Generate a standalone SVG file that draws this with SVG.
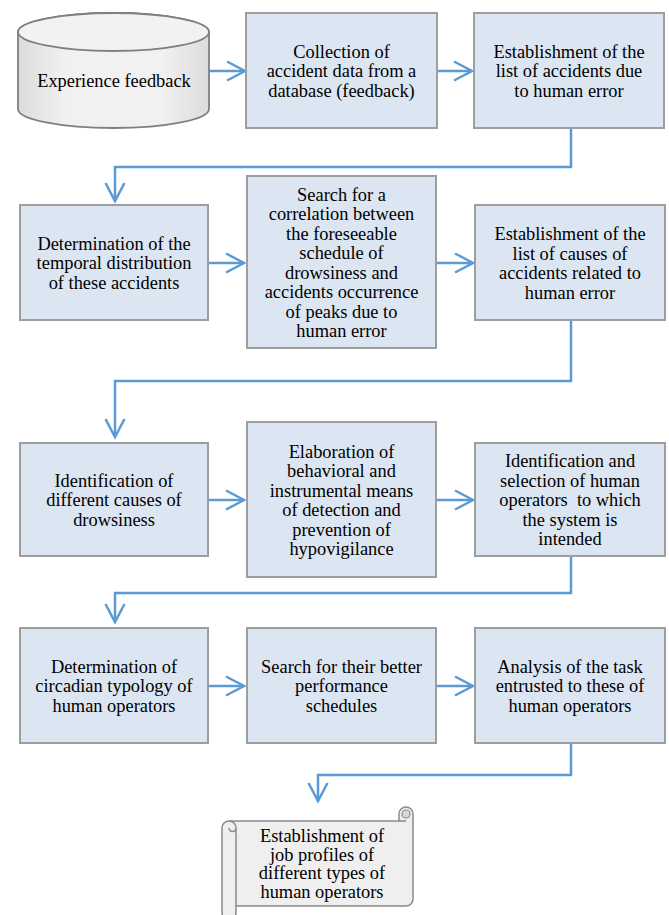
<svg xmlns="http://www.w3.org/2000/svg" width="669" height="915" viewBox="0 0 669 915" font-family="Liberation Serif, Times New Roman, DejaVu Serif, serif">
<style>
.box{fill:#DCE6F2;stroke:#9E9E9E;stroke-width:2}
.t{font-family:'Liberation Serif','Times New Roman','DejaVu Serif',serif;font-size:18.4px;fill:#000;text-anchor:middle}
.conn{fill:none;stroke:#5B9BD5;stroke-width:2.5;marker-end:url(#arr)}
.gray{fill:#EFEFEF;stroke:#8A8A8A;stroke-width:1.5}
</style>
<defs>
<marker id="arr" markerUnits="userSpaceOnUse" markerWidth="24" markerHeight="24" refX="18" refY="10" orient="auto" overflow="visible">
<path d="M0,0.5 L18,10 L0,19.5" fill="none" stroke="#5B9BD5" stroke-width="2.5"/>
</marker>
<linearGradient id="cyl" x1="0" y1="0" x2="1" y2="0">
<stop offset="0" stop-color="#DCDCDC"/>
<stop offset="0.25" stop-color="#F1F1F1"/>
<stop offset="0.75" stop-color="#F1F1F1"/>
<stop offset="1" stop-color="#DCDCDC"/>
</linearGradient>
</defs>

<g id="connectors">
<path class="conn" d="M209 71 H245"/>
<path class="conn" d="M437 71 H472"/>
<path class="conn" d="M571 128 V167 H115 V201"/>
<path class="conn" d="M208 263 H244"/>
<path class="conn" d="M436 263 H473"/>
<path class="conn" d="M571 320 V381 H115 V437"/>
<path class="conn" d="M208 500 H244"/>
<path class="conn" d="M436 500 H473"/>
<path class="conn" d="M571 556 V593 H115 V622"/>
<path class="conn" d="M208 686 H244"/>
<path class="conn" d="M436 686 H473"/>
<path class="conn" d="M571 743 V775 H318 V801"/>
</g>

<g id="experience-feedback">
<path d="M18 32 A95.5 19 0 0 1 209 32 V109 A95.5 19 0 0 1 18 109 Z" fill="url(#cyl)" stroke="#7F7F7F" stroke-width="1.8"/>
<ellipse cx="113.5" cy="32" rx="95.5" ry="19" fill="#F2F2F2" stroke="#7F7F7F" stroke-width="1.8"/>
<text class="t" x="114" y="87">Experience feedback</text>
</g>

<g id="collection">
<rect class="box" x="246" y="13" width="191" height="115"/>
<text class="t" x="341.5" y="57.5">Collection of</text>
<text class="t" x="341.5" y="77">accident data from a</text>
<text class="t" x="341.5" y="96.5">database (feedback)</text>
</g>

<g id="list-accidents">
<rect class="box" x="474" y="13" width="190" height="115"/>
<text class="t" x="569" y="57.5">Establishment of the</text>
<text class="t" x="569" y="77">list of accidents due</text>
<text class="t" x="569" y="96.5">to human error</text>
</g>

<g id="temporal-distribution">
<rect class="box" x="20" y="205" width="188" height="115"/>
<text class="t" x="114" y="249.5">Determination of the</text>
<text class="t" x="114" y="269">temporal distribution</text>
<text class="t" x="114" y="288.5">of these accidents</text>
</g>

<g id="correlation">
<rect class="box" x="247" y="176" width="189" height="172"/>
<text class="t" x="341.5" y="200.5">Search for a</text>
<text class="t" x="341.5" y="220">correlation between</text>
<text class="t" x="341.5" y="239.5">the foreseeable</text>
<text class="t" x="341.5" y="259">schedule of</text>
<text class="t" x="341.5" y="278.5">drowsiness and</text>
<text class="t" x="341.5" y="298">accidents occurrence</text>
<text class="t" x="341.5" y="317.5">of peaks due to</text>
<text class="t" x="341.5" y="337">human error</text>
</g>

<g id="list-causes">
<rect class="box" x="475" y="205" width="190" height="115"/>
<text class="t" x="570" y="240">Establishment of the</text>
<text class="t" x="570" y="259.5">list of causes of</text>
<text class="t" x="570" y="279">accidents related to</text>
<text class="t" x="570" y="298.5">human error</text>
</g>

<g id="causes-drowsiness">
<rect class="box" x="20" y="443" width="188" height="113"/>
<text class="t" x="114" y="486.5">Identification of</text>
<text class="t" x="114" y="506">different causes of</text>
<text class="t" x="114" y="525.5">drowsiness</text>
</g>

<g id="elaboration">
<rect class="box" x="247" y="422" width="189" height="155"/>
<text class="t" x="341.5" y="457.5">Elaboration of</text>
<text class="t" x="341.5" y="477">behavioral and</text>
<text class="t" x="341.5" y="496.5">instrumental means</text>
<text class="t" x="341.5" y="516">of detection and</text>
<text class="t" x="341.5" y="535.5">prevention of</text>
<text class="t" x="341.5" y="555">hypovigilance</text>
</g>

<g id="selection-operators">
<rect class="box" x="475" y="443" width="190" height="113"/>
<text class="t" x="570" y="467">Identification and</text>
<text class="t" x="570" y="486.5">selection of human</text>
<text class="t" x="570" y="506" xml:space="preserve">operators  to which</text>
<text class="t" x="570" y="525.5">the system is</text>
<text class="t" x="570" y="545">intended</text>
</g>

<g id="circadian-typology">
<rect class="box" x="20" y="628" width="188" height="115"/>
<text class="t" x="114" y="672.5">Determination of</text>
<text class="t" x="114" y="692">circadian typology of</text>
<text class="t" x="114" y="711.5">human operators</text>
</g>

<g id="performance-schedules">
<rect class="box" x="247" y="628" width="189" height="115"/>
<text class="t" x="341.5" y="672.5">Search for their better</text>
<text class="t" x="341.5" y="692">performance</text>
<text class="t" x="341.5" y="711.5">schedules</text>
</g>

<g id="task-analysis">
<rect class="box" x="475" y="628" width="190" height="115"/>
<text class="t" x="570" y="672.5">Analysis of the task</text>
<text class="t" x="570" y="692">entrusted to these of</text>
<text class="t" x="570" y="711.5">human operators</text>
</g>

<g id="job-profiles">
<path class="gray" d="M222 828 A7 7 0 0 1 229 821 H399 V814 A7 7 0 0 1 413 814 V899 A7 7 0 0 1 406 906 H236 V913 A7 7 0 0 1 222 913 Z"/>
<path d="M236 828 V906 M399 821 H406 M229 821 A7 7 0 0 1 236 828 A3.5 3.5 0 0 1 229 828" fill="none" stroke="#8A8A8A" stroke-width="1.5"/>
<circle cx="406" cy="814" r="4" fill="#D8D8D8" stroke="#8A8A8A" stroke-width="1.2"/>
<text class="t" x="322" y="842">Establishment of</text>
<text class="t" x="322" y="860.5">job profiles of</text>
<text class="t" x="322" y="879">different types of</text>
<text class="t" x="322" y="897.5">human operators</text>
</g>
</svg>
